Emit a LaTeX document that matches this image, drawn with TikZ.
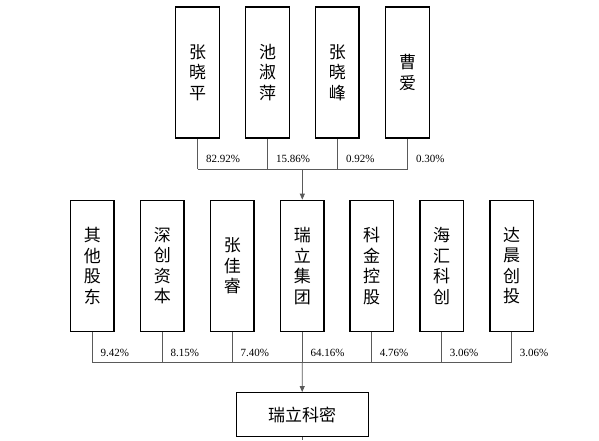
\documentclass[tikz,border=0pt]{standalone}
\usepackage{fontspec}
\setmainfont{Liberation Serif}
\newfontfamily\cjk{Noto Sans CJK SC}
\usetikzlibrary{arrows.meta, calc, positioning}
\definecolor{linegray}{RGB}{90,90,90}

\begin{document}
\begin{tikzpicture}[x=1pt, y=-1pt,
    holder/.style={draw, line width=1.3pt, minimum width=43.5pt, minimum height=131pt, inner sep=0pt, align=center, font=\cjk\fontsize{17}{20.5}\selectfont},
    link/.style={draw=linegray, line width=0.8pt},
    pct/.style={anchor=west, inner sep=0pt, font=\fontsize{11}{12}\selectfont}]
    \useasboundingbox (0,0) rectangle (599,440);

    % Top shareholders
    \node[holder] (zxp) at (197.5,72.5) {张\\晓\\平};
    \node[holder] (csp) at (267.5,72.5) {池\\淑\\萍};
    \node[holder] (zxf) at (337.3,72.5) {张\\晓\\峰};
    \node[holder] (ca)  at (407.5,72.5) {曹\\爱};
    \coordinate (topbar) at (0,169);

    \draw[link] (zxp.south) -- (zxp.south |- topbar);
    \draw[link] (csp.south) -- (csp.south |- topbar);
    \draw[link] (zxf.south) -- (zxf.south |- topbar);
    \draw[link] (ca.south) -- (ca.south |- topbar);
    \draw[link] (zxp.south |- topbar) -- (ca.south |- topbar);

    \node[pct] (pzxp) at ($(zxp.south)+(8.5,20)$) {82.92\%};
    \node[pct] (pcsp) at ($(csp.south)+(8.5,20)$) {15.86\%};
    \node[pct] (pzxf) at ($(zxf.south)+(8.5,20)$) {0.92\%};
    \node[pct] (pca)  at ($(ca.south)+(8.5,20)$) {0.30\%};

    % Direct shareholders
    \node[holder] (qtgd) at (92.3,265.8)  {其\\他\\股\\东};
    \node[holder] (sczb) at (162.3,265.8) {深\\创\\资\\本};
    \node[holder] (zjr)  at (232.3,265.8) {张\\佳\\睿};
    \node[holder] (rljt) at (302.3,265.8) {瑞\\立\\集\\团};
    \node[holder] (kjkg) at (371.7,265.8) {科\\金\\控\\股};
    \node[holder] (hhkc) at (441.7,265.8) {海\\汇\\科\\创};
    \node[holder] (dcct) at (511.7,265.8) {达\\晨\\创\\投};
    \coordinate (lowbar) at (0,362.3);

    \draw[link, -{Triangle[length=6pt, width=5pt]}] (rljt.north |- topbar) -- (rljt.north);

    \draw[link] (qtgd.south) -- (qtgd.south |- lowbar);
    \draw[link] (sczb.south) -- (sczb.south |- lowbar);
    \draw[link] (zjr.south) -- (zjr.south |- lowbar);
    \draw[link] (rljt.south) -- (rljt.south |- lowbar);
    \draw[link] (kjkg.south) -- (kjkg.south |- lowbar);
    \draw[link] (hhkc.south) -- (hhkc.south |- lowbar);
    \draw[link] (dcct.south) -- (dcct.south |- lowbar);
    \draw[link] (qtgd.south |- lowbar) -- (dcct.south |- lowbar);

    \node[pct] (pqtgd) at ($(qtgd.south)+(8,20.6)$) {9.42\%};
    \node[pct] (psczb) at ($(sczb.south)+(8,20.6)$) {8.15\%};
    \node[pct] (pzjr)  at ($(zjr.south)+(8,20.6)$)  {7.40\%};
    \node[pct] (prljt) at ($(rljt.south)+(8,20.6)$) {64.16\%};
    \node[pct] (pkjkg) at ($(kjkg.south)+(8,20.6)$) {4.76\%};
    \node[pct] (phhkc) at ($(hhkc.south)+(8,20.6)$) {3.06\%};
    \node[pct] (pdcct) at ($(dcct.south)+(8,20.6)$) {3.06\%};

    % Company
    \node[draw, line width=1.3pt, minimum width=132pt, minimum height=44pt, inner sep=0pt, font=\cjk\fontsize{17}{20}\selectfont] (rlkm) at (302.2,414.7) {瑞立科密};
    \coordinate (stub) at (302.2,440);

    \draw[link, -{Triangle[length=6pt, width=5pt]}] (rljt.south |- lowbar) -- (rlkm.north);
    \draw[link] (rlkm.south) -- (stub);
\end{tikzpicture}
\end{document}
